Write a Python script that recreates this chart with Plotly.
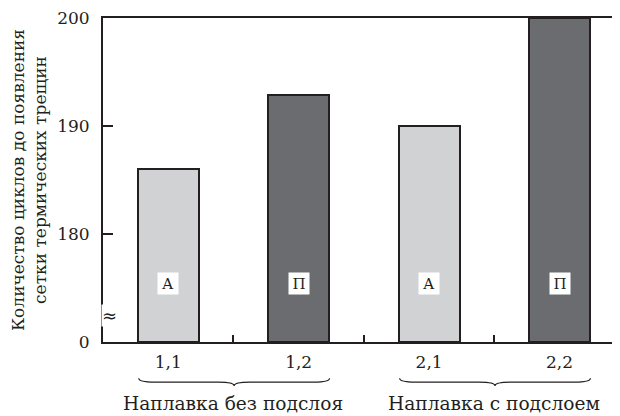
import plotly.graph_objects as go

categories = ["1,1", "1,2", "2,1", "2,2"]
cycles = [186.0, 192.9, 190.0, 200.0]
bar_marks = ["А", "П", "А", "П"]
bar_colors = ["#d1d2d4", "#6b6c70", "#d1d2d4", "#6b6c70"]
groups = ["Наплавка без подслоя", "Наплавка с подслоем"]
group_spans = [(0, 1), (2, 3)]
y_tickvals = [170, 180, 190, 200]
y_ticktext = ["0", "180", "190", "200"]
AXIS_BREAK_BASE = 170  # value shown as "0" below the axis break

INK = "#231f20"
FONT = "DejaVu Serif"
FS = 17
x = list(range(len(categories)))

fig = go.Figure()
fig.add_trace(go.Bar(
    x=x, y=[v - AXIS_BREAK_BASE for v in cycles], base=AXIS_BREAK_BASE,
    width=0.467, marker=dict(color=bar_colors, line=dict(color=INK, width=2)),
    showlegend=False, hoverinfo="skip",
))

for xi, t in zip(x, bar_marks):
    fig.add_annotation(x=xi, y=175.4, text=t, showarrow=False, bgcolor="white",
                       font=dict(family=FONT, size=15, color=INK),
                       borderpad=1, width=18, height=19)

def brace(x0, x1, ytop, ybot):
    xc = (x0 + x1) / 2
    ym = (ytop + ybot) / 2
    d = 0.12
    return (f"M {x0},{ytop} Q {x0},{ym} {x0+d},{ym} L {xc-d},{ym} "
            f"Q {xc},{ym} {xc},{ybot} Q {xc},{ym} {xc+d},{ym} "
            f"L {x1-d},{ym} Q {x1},{ym} {x1},{ytop}")

for (a, b), g in zip(group_spans, groups):
    x0 = a - 0.226
    x1 = b + 0.237
    fig.add_shape(type="path", xref="x", yref="paper",
                  path=brace(x0, x1, -0.112, -0.136),
                  line=dict(color=INK, width=1.2))
    fig.add_annotation(x=(a + b) / 2, y=-0.190, xref="x", yref="paper",
                       yanchor="middle",
                       text=g, showarrow=False,
                       font=dict(family=FONT, size=18.6, color=INK))

fig.add_annotation(x=0, y=0.045, xref="paper", yref="paper", text="≈",
                   showarrow=False, xshift=-2, bgcolor="white", borderpad=0,
                   font=dict(family="DejaVu Serif", size=18, color=INK))

fig.update_layout(
    width=620, height=416,
    margin=dict(l=95, r=0, t=7, b=82),
    plot_bgcolor="white", paper_bgcolor="white",
    font=dict(family=FONT, size=FS, color=INK),
    bargap=0,
    xaxis=dict(
        range=[-0.5, 3.525], tickvals=x, ticktext=categories,
        ticks="", showline=True, linecolor=INK, linewidth=2, mirror=True,
        showgrid=False, zeroline=False, ticklabelstandoff=4,
        minor=dict(tickmode="array", tickvals=[0.5, 1.5, 2.5], ticks="inside",
                   ticklen=7, tickwidth=2, tickcolor=INK, showgrid=False),
    ),
    yaxis=dict(
        range=[AXIS_BREAK_BASE, 200], tickvals=y_tickvals, ticktext=y_ticktext,
        ticks="inside", ticklen=10, tickwidth=2, tickcolor=INK,
        showline=True, linecolor=INK, linewidth=2, showgrid=False,
        zeroline=False, ticklabelstandoff=8, ticklabeloverflow="allow",
        title=dict(text="Количество циклов до появления<br>сетки термических трещин",
                   font=dict(family=FONT, size=FS, color=INK), standoff=10),
    ),
)
fig.write_html("out.html")
